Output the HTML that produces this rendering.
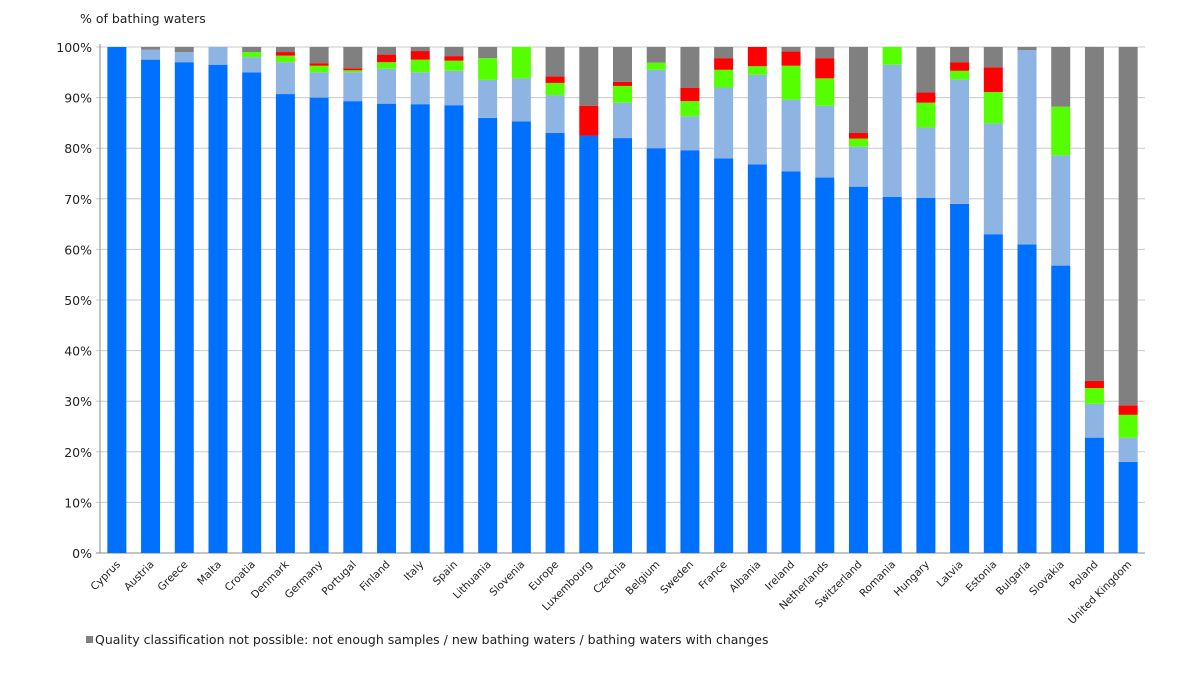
<!DOCTYPE html>
<html><head><meta charset="utf-8"><style>
body{margin:0;background:#fff;font-family:"DejaVu Sans",sans-serif;}
svg text{font-family:"DejaVu Sans",sans-serif;fill:#222;}
</style></head><body>
<svg id="chart" width="1200" height="674" xmlns="http://www.w3.org/2000/svg">
<text x="80" y="23" font-size="12.5">% of bathing waters</text>
<g id="grid"></g><g id="bars"></g><g id="labels"></g>
<rect x="86" y="636" width="7" height="7" fill="#808080"/>
<text x="95" y="644" font-size="12.5">Quality classification not possible:  not enough samples / new bathing waters / bathing waters with changes</text>
</svg>
<script>
const categories=["Cyprus","Austria","Greece","Malta","Croatia","Denmark","Germany","Portugal","Finland","Italy","Spain","Lithuania","Slovenia","Europe","Luxembourg","Czechia","Belgium","Sweden","France","Albania","Ireland","Netherlands","Switzerland","Romania","Hungary","Latvia","Estonia","Bulgaria","Slovakia","Poland","United Kingdom"];
const excellent=[100,97.5,97,96.5,95,90.7,90,89.3,88.8,88.7,88.5,86,85.3,83,82.5,82,80,79.6,78,76.8,75.4,74.2,72.4,70.4,70.2,69,63,61,56.8,22.8,18];
const good=[0,2,2,3.5,3,6.3,5,5.7,6.9,6.3,6.8,7.5,8.5,7.5,0,7,15.5,6.7,14,17.7,14.2,14.2,7.9,26.1,13.9,24.6,21.9,38.4,21.8,6.7,4.8];
const sufficient=[0,0,0,0,1,1.3,1.3,0.4,1.3,2.5,2,4.3,6.2,2.4,0,3.3,1.4,3,3.5,1.7,6.7,5.4,1.6,3.5,4.9,1.7,6.2,0,9.6,3.1,4.5];
const poor=[0,0,0,0,0,0.7,0.5,0.4,1.5,1.7,0.9,0,0,1.3,5.9,0.8,0,2.6,2.3,3.8,2.8,4,1.1,0,2,1.7,4.9,0,0,1.4,1.9];
const notClassified=[0,0.5,1,0,1,1,3.2,4.2,1.5,0.8,1.8,2.2,0,5.8,11.6,6.9,3.1,8.1,2.2,0,0.9,2.2,17,0,9,3,4,0.6,11.8,66,70.8];
const yTicks=[0,10,20,30,40,50,60,70,80,90,100];
const series=[["excellent",excellent,"#0070ff"],["good",good,"#8db4e2"],["sufficient",sufficient,"#55ff00"],["poor",poor,"#ff0000"],["not-classified",notClassified,"#808080"]];
const NS="http://www.w3.org/2000/svg";
const L=100,R=1145,T=47,B=553;
const y=v=>B-(B-T)*v/100;
const slot=(R-L)/categories.length;
const xc=i=>L+slot*(i+0.5);
function mk(t,a,p){const e=document.createElementNS(NS,t);for(const k in a)e.setAttribute(k,a[k]);p.appendChild(e);return e;}
const grid=document.getElementById('grid'),bars=document.getElementById('bars'),labels=document.getElementById('labels');
yTicks.forEach(v=>{
  const l=mk('line',{x1:L-4,x2:R,y1:y(v),y2:y(v),stroke:v===0?'#888':'#c8c8c8','stroke-width':1},grid);
  
  
  const t=mk('text',{x:92,y:y(v)+5,'text-anchor':'end','font-size':12.5},grid);
  t.textContent=v+'%';
  
  
});
const ax=mk('line',{x1:L,x2:L,y1:T-3,y2:B,stroke:'#888'},grid);


categories.forEach((c,i)=>{
  let cum=0;
  series.forEach(([n,arr,col])=>{
    const v=arr[i];
    if(v>0){
      const r=mk('rect',{x:xc(i)-9.5,width:19,y:y(cum+v),height:y(cum)-y(cum+v),fill:col},bars);
      
      
    }
    cum+=v;
  });
  const t=mk('text',{x:xc(i)+4,y:B+12,'text-anchor':'end','font-size':10.5,transform:`rotate(-45 ${xc(i)+4} ${B+12})`},labels);
  t.textContent=c;
  
  
});
</script>
</body></html>
